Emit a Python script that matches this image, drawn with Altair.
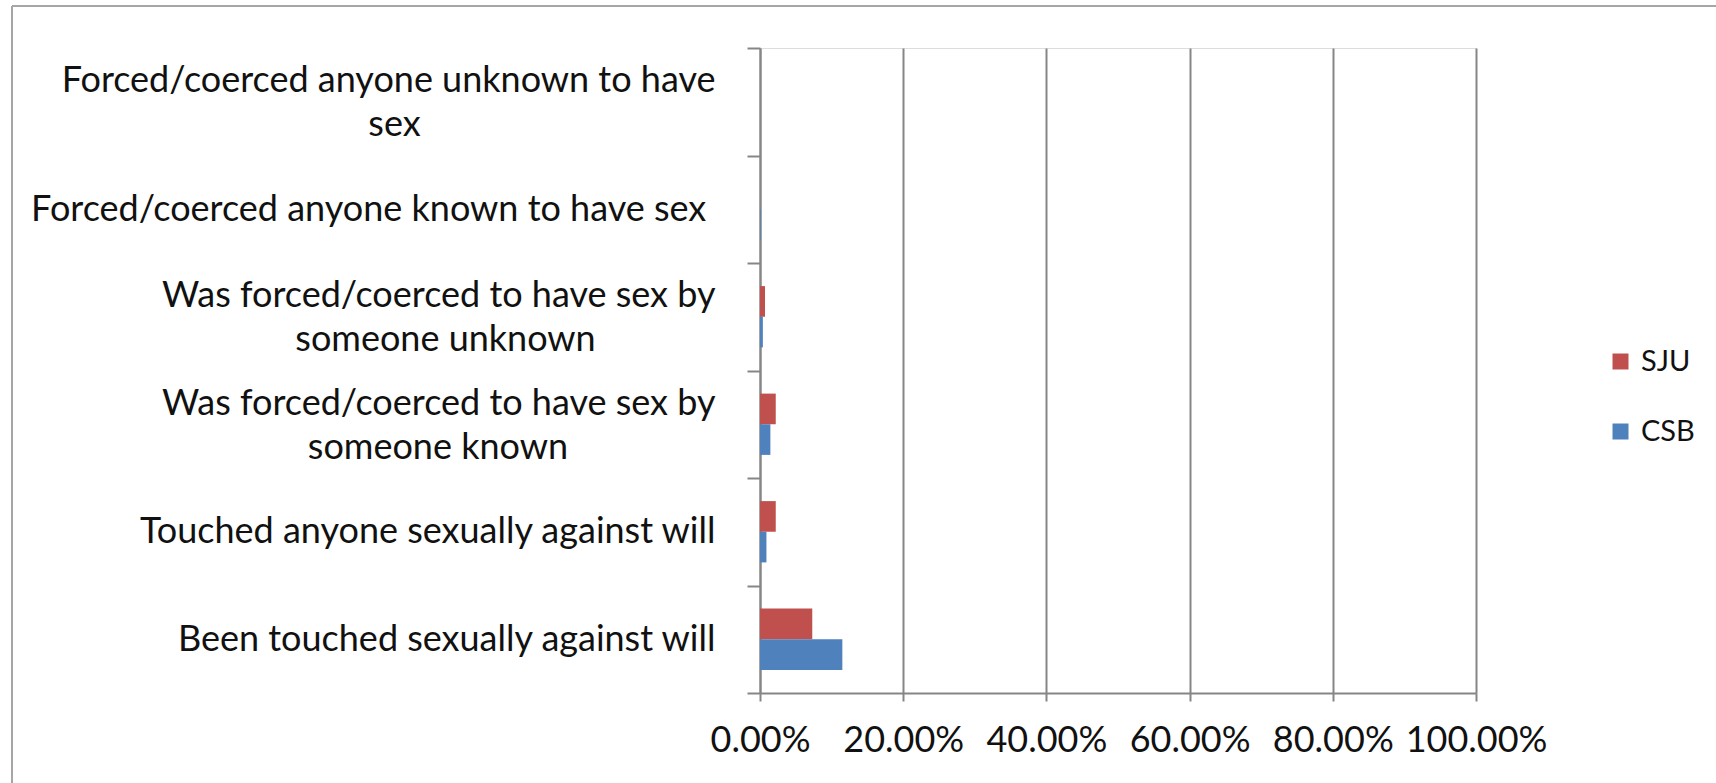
import json
import altair as alt
import pandas as pd

categories = [
    "Forced/coerced anyone unknown to have sex",
    "Forced/coerced anyone known to have sex",
    "Was forced/coerced to have sex by someone unknown",
    "Was forced/coerced to have sex by someone known",
    "Touched anyone sexually against will",
    "Been touched sexually against will",
]
label_lines = [
    ["Forced/coerced anyone unknown to have", "sex"],
    ["Forced/coerced anyone known to have sex"],
    ["Was forced/coerced to have sex by", "someone unknown"],
    ["Was forced/coerced to have sex by", "someone known"],
    ["Touched anyone sexually against will"],
    ["Been touched sexually against will"],
]
# right padding (px) of second lines so they appear centred under line 1
line_pad_px = [[0, 300], [8], [0, 124], [0, 146], [0], [0]]
series = ["SJU", "CSB"]
sju = [0.0, 0.0, 0.007, 0.022, 0.022, 0.073]
csb = [0.0, 0.001, 0.004, 0.0145, 0.009, 0.115]
colors = ["#C0504D", "#4F81BD"]

FONT = "Lato"
FS = 36
NBSP_W = FS * 0.258

rows = []
for i, c in enumerate(categories):
    rows.append({"category": c, "series": "SJU", "value": sju[i]})
    rows.append({"category": c, "series": "CSB", "value": csb[i]})
df = pd.DataFrame(rows)

lab_map = {}
for c, lines, pads in zip(categories, label_lines, line_pad_px):
    out = []
    for ln, p in zip(lines, pads):
        n = int(round(p / NBSP_W))
        out.append(ln + ("\u00a0" * n + "\u200b" if n else ""))
    lab_map[c] = out

label_expr = json.dumps(lab_map, ensure_ascii=False) + "[datum.value]"
multi = [c for c, lines in zip(categories, label_lines) if len(lines) > 1]
multi_test = "indexof(" + json.dumps(multi) + ", datum.value) >= 0"

bars = (
    alt.Chart(df)
    .mark_bar()
    .encode(
        y=alt.Y(
            "category:N",
            sort=categories,
            scale=alt.Scale(paddingInner=0, paddingOuter=0),
            axis=alt.Axis(
                title=None,
                labelExpr=label_expr,
                labelFont=FONT,
                labelFontSize=FS,
                labelColor="#111111",
                labelLineHeight=44,
                labelPadding=32,
                labelAlign="right",
                labelLimit=900,
                labelOffset={"condition": {"test": multi_test, "value": -21}, "value": 0},
                tickBand="extent",
                tickSize=13,
                tickColor="#868686",
                tickWidth=2,
                domainColor="#868686",
                domainWidth=2,
                grid=False,
            ),
        ),
        yOffset=alt.YOffset(
            "series:N", sort=series,
            scale=alt.Scale(paddingInner=0, paddingOuter=0.754),
        ),
        x=alt.X(
            "value:Q",
            scale=alt.Scale(domain=[0, 1], nice=False),
            axis=alt.Axis(
                title=None,
                format=".2%",
                values=[0, 0.2, 0.4, 0.6, 0.8, 1.0],
                labelOverlap=False,
                labelFlush=False,
                labelFont=FONT,
                labelFontSize=FS,
                labelColor="#111111",
                labelPadding=22,
                tickSize=8,
                tickColor="#868686",
                tickWidth=2,
                domainColor="#868686",
                domainWidth=2,
                grid=True,
                gridColor="#868686",
                gridWidth=2,
            ),
        ),
        color=alt.Color(
            "series:N",
            scale=alt.Scale(domain=series, range=colors),
            legend=alt.Legend(
                title=None,
                orient="none",
                legendX=846,
                legendY=299,
                symbolType="square",
                symbolSize=256,
                symbolStrokeWidth=0,
                labelFont=FONT,
                labelFontSize=29,
                labelColor="#111111",
                labelOffset=6,
                rowPadding=40,
                padding=0,
            ),
        ),
    )
)

# outer chart frame (left and top edges, as in the reference)
frame_data = pd.DataFrame({"k": [0]})
frame_left = alt.Chart(frame_data).mark_rule(color="#a6a6a6", strokeWidth=2).encode(
    x=alt.value(-748), y=alt.value(-42), y2=alt.value(800)
)
frame_top = alt.Chart(frame_data).mark_rule(color="#a6a6a6", strokeWidth=2).encode(
    x=alt.value(-748), x2=alt.value(1000), y=alt.value(-42)
)

chart = (
    alt.layer(frame_left, frame_top, bars)
    .properties(
        width=716,
        height=645,
        autosize=alt.AutoSizeParams(type="none"),
        padding={"left": 760, "top": 48, "right": 240, "bottom": 90},
    )
    .configure_view(stroke=None)
    .configure(background="white")
)

chart.save("out.html", embed_options={"renderer": "svg", "actions": False})
